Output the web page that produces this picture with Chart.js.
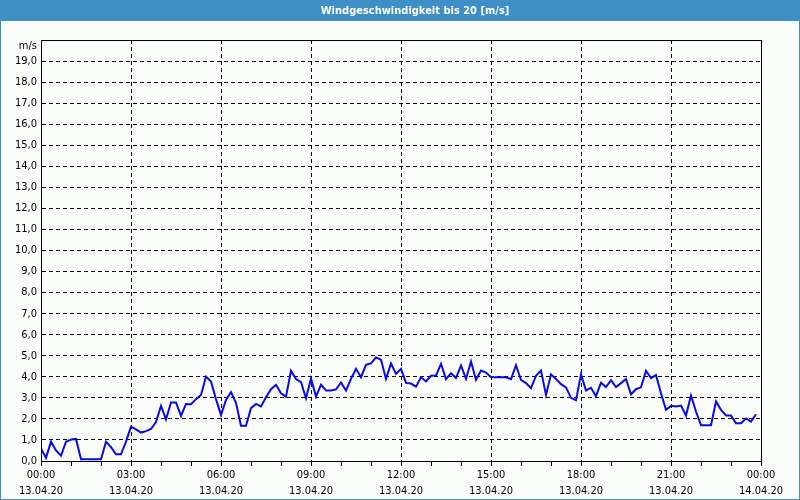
<!DOCTYPE html>
<html>
<head>
<meta charset="utf-8">
<script src="https://cdn.jsdelivr.net/npm/chart.js@4/dist/chart.umd.min.js"></script>
<style>
  html, body { margin: 0; padding: 0; background: #fbfdfb; }
  #wrap { width: 800px; height: 500px; position: relative; }
</style>
</head>
<body>
<div id="wrap"><canvas id="c" width="800" height="500"></canvas></div>
<script>
// ---- data (10-minute samples, 13.04.20 00:00 .. 23:50) ----
const chartTitle = 'Windgeschwindigkeit bis 20 [m/s]';
const unitLabel = 'm/s';
const sampleMinutes = 10;
const windSpeed = [
  0.6, 0.15, 0.92, 0.5, 0.25, 0.92, 1.02, 1.05, 0.08, 0.08, 0.08, 0.08,
  0.08, 0.92, 0.66, 0.32, 0.32, 0.92, 1.63, 1.5, 1.35, 1.42, 1.52, 1.85,
  2.62, 1.98, 2.78, 2.78, 2.14, 2.71, 2.7, 2.94, 3.14, 4.01, 3.78, 2.94,
  2.19, 2.9, 3.27, 2.76, 1.67, 1.67, 2.51, 2.71, 2.59, 3.03, 3.41, 3.62,
  3.22, 3.06, 4.29, 3.89, 3.75, 2.98, 3.92, 3.06, 3.63, 3.35, 3.35, 3.4,
  3.73, 3.35, 3.9, 4.38, 3.98, 4.57, 4.64, 4.92, 4.81, 3.9, 4.63, 4.14,
  4.38, 3.71, 3.68, 3.53, 3.98, 3.78, 4.05, 4.06, 4.62, 3.89, 4.17, 3.94,
  4.54, 3.9, 4.73, 3.86, 4.3, 4.2, 3.98, 3.98, 3.98, 3.98, 3.89, 4.55,
  3.85, 3.7, 3.46, 4.05, 4.3, 3.14, 4.12, 3.9, 3.65, 3.5, 3.0, 2.88,
  4.12, 3.35, 3.48, 3.08, 3.72, 3.51, 3.84, 3.51, 3.7, 3.9, 3.17, 3.41,
  3.5, 4.29, 3.94, 4.08, 3.22, 2.43, 2.62, 2.59, 2.63, 2.16, 3.11, 2.35,
  1.7, 1.7, 1.7, 2.83, 2.43, 2.16, 2.16, 1.79, 1.79, 2.02, 1.87, 2.22
];
// x axis: major ticks every 3 h (minutes), minor ticks every hour
const majorTickMinutes = [0, 180, 360, 540, 720, 900, 1080, 1260, 1440];
const majorTickTimes = ['00:00','03:00','06:00','09:00','12:00','15:00','18:00','21:00','00:00'];
const majorTickDates = ['13.04.20','13.04.20','13.04.20','13.04.20','13.04.20','13.04.20','13.04.20','13.04.20','14.04.20'];
const minorTickMinutes = [60,120,240,300,420,480,600,660,780,840,960,1020,1140,1200,1320,1380];
const yTickValues = [0,1,2,3,4,5,6,7,8,9,10,11,12,13,14,15,16,17,18,19,20];

const FONT = '"DejaVu Sans Condensed", "Liberation Sans", sans-serif';
const points = windSpeed.map((v, i) => ({ x: i * sampleMinutes, y: v }));
const allXTicks = majorTickMinutes.concat(minorTickMinutes).sort((a, b) => a - b);

const framePlugin = {
  id: 'frame',
  beforeDraw(chart) {
    const c = chart.ctx, W = chart.width, H = chart.height;
    c.save();
    c.fillStyle = '#fbfdfb';
    c.fillRect(0, 0, W, H);
    c.fillStyle = '#3d8fc6';
    c.fillRect(0, 0, W, 21);
    c.fillStyle = '#ffffff';
    c.font = 'bold 11px ' + FONT;
    c.textAlign = 'center';
    c.textBaseline = 'middle';
    c.fillText(chartTitle, 415, 11);
    c.strokeStyle = '#3d8fc6';
    c.lineWidth = 1;
    c.strokeRect(0.5, 0.5, W - 1, H - 1);
    c.restore();
  },
  afterDraw(chart) {
    const c = chart.ctx, a = chart.chartArea;
    c.save();
    c.strokeStyle = '#000';
    c.lineWidth = 1;
    c.setLineDash([]);
    c.strokeRect(Math.round(a.left) + 0.5, Math.round(a.top) + 0.5,
                 Math.round(a.right - a.left), Math.round(a.bottom - a.top));
    c.fillStyle = '#000';
    c.font = '11px ' + FONT;
    c.textAlign = 'right';
    c.textBaseline = 'middle';
    c.fillText(unitLabel, a.left - 4, a.top + 6);
    c.restore();
  }
};

new Chart(document.getElementById('c'), {
  type: 'line',
  data: {
    datasets: [{
      data: points,
      borderColor: '#0a0ae6',
      borderWidth: 2,
      pointRadius: 0,
      tension: 0,
      fill: false
    }]
  },
  options: {
    responsive: false,
    animation: false,
    events: [],
    layout: { padding: { left: 0, right: 39, top: 40, bottom: 0 } },
    plugins: { legend: { display: false }, tooltip: { enabled: false }, title: { display: false } },
    scales: {
      x: {
        type: 'linear',
        min: 0,
        max: 1440,
        afterFit(scale) { scale.height = 39; },
        afterBuildTicks(scale) { scale.ticks = allXTicks.map(v => ({ value: v })); },
        grid: {
          color: (ctx) => (ctx.tick && ctx.tick.value % 180 === 0 && ctx.tick.value > 0 && ctx.tick.value < 1440) ? '#000' : 'rgba(0,0,0,0)',
          tickColor: '#000',
          tickLength: 5,
          lineWidth: 1,
          drawTicks: true
        },
        border: { display: true, color: '#000', dash: [4, 3] },
        ticks: {
          autoSkip: false,
          maxRotation: 0,
          minRotation: 0,
          padding: 1,
          color: '#000',
          font: { family: FONT, size: 11, lineHeight: 1.45 },
          callback(value) {
            const i = majorTickMinutes.indexOf(value);
            return i >= 0 ? [majorTickTimes[i], majorTickDates[i]] : '';
          }
        }
      },
      y: {
        min: 0,
        max: 20,
        afterFit(scale) { scale.width = 41; },
        afterBuildTicks(scale) { scale.ticks = yTickValues.map(v => ({ value: v })); },
        grid: {
          color: (ctx) => (ctx.tick && ctx.tick.value > 0 && ctx.tick.value < 20) ? '#000' : 'rgba(0,0,0,0)',
          lineWidth: 1,
          drawTicks: false
        },
        border: { display: true, color: '#000', dash: [4, 3] },
        ticks: {
          padding: 4,
          color: '#000',
          font: { family: FONT, size: 11 },
          callback(value) { return value >= 20 ? '' : value.toFixed(1).replace('.', ','); }
        }
      }
    }
  },
  plugins: [framePlugin]
});
</script>
</body>
</html>
